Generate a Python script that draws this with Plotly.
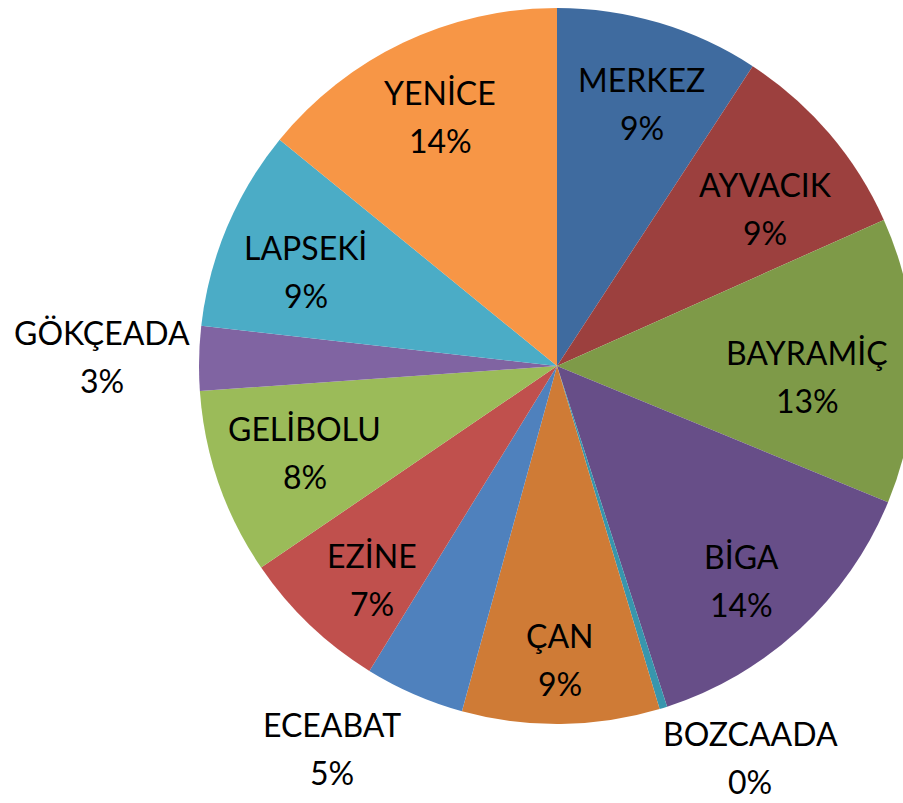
import math
import plotly.graph_objects as go

districts = ["MERKEZ", "AYVACIK", "BAYRAMİÇ", "BİGA", "BOZCAADA", "ÇAN",
             "ECEABAT", "EZİNE", "GELİBOLU", "GÖKÇEADA", "LAPSEKİ", "YENİCE"]
# slice sizes (share of the circle)
shares = [9.2, 9.1, 12.9, 13.8, 0.35, 8.9, 4.5, 6.7, 8.4, 2.9, 9.1, 14.1]
# percentages as printed on the chart
pct_labels = ["9%", "9%", "13%", "14%", "0%", "9%", "5%", "7%", "8%", "3%", "9%", "14%"]

colors = ["#3F6B9F", "#9C403E", "#7E9A48", "#674E88", "#3896AD", "#CF7B36",
          "#4F81BD", "#C0504D", "#9BBB59", "#8064A2", "#4BACC6", "#F79646"]

# label placement (style): radial distance as fraction of radius, angle nudge in degrees
label_r = [0.77, 0.73, 0.70, 0.79, 1.22, 0.82, 1.24, 0.79, 0.745, 1.27, 0.75, 0.77]
label_dtheta = [1.3, 3.3, 3.2, 2.0, -9.0, 0.1, 6.9, -2.8, 0.1, 0.0, -2.2, 0.3]

W, H = 920, 803
cx, cy, R = 557, 366, 358

fig = go.Figure(go.Pie(
    labels=districts,
    values=shares,
    textinfo="none",
    sort=False,
    direction="clockwise",
    rotation=0,
    marker=dict(colors=colors, line=dict(width=0)),
    hoverinfo="label",
    domain=dict(x=[(cx - R) / W, (cx + R) / W], y=[(H - cy - R) / H, (H - cy + R) / H]),
    showlegend=False,
))

total = sum(shares)
cum = 0.0
font = dict(family="Lato", size=32, color="#000000")
for name, v, pct, rf, dt in zip(districts, shares, pct_labels, label_r, label_dtheta):
    mid = (cum + v / 2) / total * 360.0 + dt
    cum += v
    th = math.radians(mid)
    px = cx + rf * R * math.sin(th)
    py = cy - rf * R * math.cos(th)
    x = px / W
    y = (H - py) / H
    fig.add_annotation(x=x, y=y, xref="paper", yref="paper", text=name,
                       showarrow=False, font=font, yshift=24, borderpad=0,
                       xanchor="center", yanchor="middle")
    fig.add_annotation(x=x, y=y, xref="paper", yref="paper", text=pct,
                       showarrow=False, font=font, yshift=-24, borderpad=0,
                       xanchor="center", yanchor="middle")

fig.update_layout(
    width=W, height=H,
    margin=dict(l=0, r=0, t=0, b=0),
    paper_bgcolor="white",
    plot_bgcolor="white",
)

fig.write_html(
    "out.html",
    config={"displayModeBar": False},
    post_script="document.body.style.margin='0px';document.body.style.overflow='hidden';document.documentElement.style.overflow='hidden';",
)
